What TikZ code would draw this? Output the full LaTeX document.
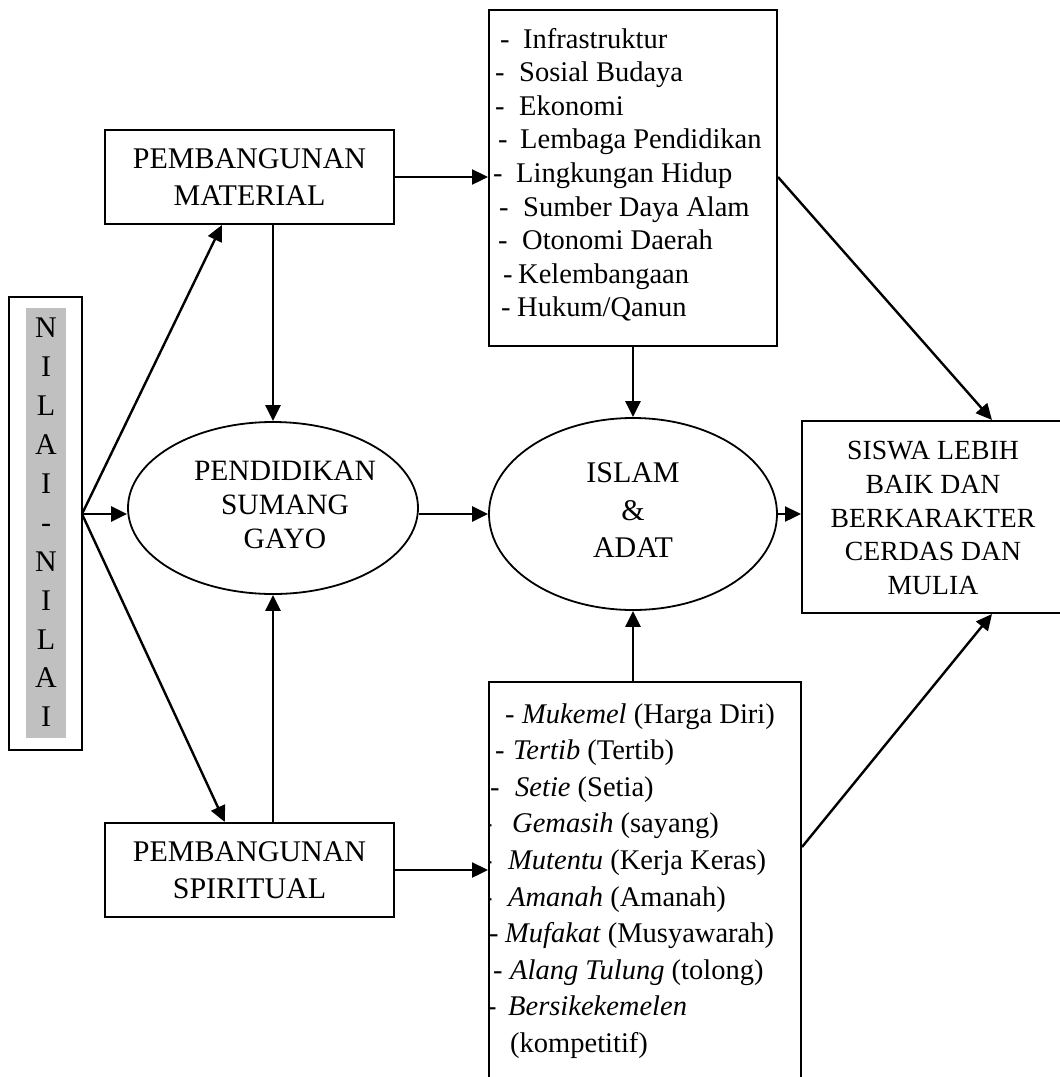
\documentclass[tikz,border=0pt]{standalone}
\usepackage{fontspec}
\setmainfont{Liberation Serif}
\usetikzlibrary{arrows.meta,shapes.geometric,calc}
\definecolor{shade}{RGB}{192,192,192}
\newcommand{\lline}[5]{\node[lst] (#1d) at (#2,#4) {-}; \node[lst] (#1) at (#3,#4) {#5};}
\begin{document}
\begin{tikzpicture}[x=1pt,y=-1pt,
  box/.style={draw,line width=2pt,inner sep=0pt},
  oval/.style={draw,ellipse,line width=1.8pt,inner sep=0pt},
  arr/.style={line width=2.4pt,-{Triangle[length=16pt,width=15pt]}},
  lst/.style={anchor=base west,inner sep=0pt,font=\fontsize{28.5}{34}\selectfont},
  big/.style={align=center,inner sep=0pt,font=\fontsize{30}{36.5}\selectfont},
]
\useasboundingbox (0,0) rectangle (1060,1077);

% NILAI-NILAI box
\node[box,fill=white,minimum width=73pt,minimum height=453pt] (nbox) at (45.5,523.5) {};
\node[fill=shade,minimum width=40pt,minimum height=430pt,inner sep=0pt] (nfill) at (46,523) {};
\node[align=center,inner sep=0pt,font=\fontsize{30}{38.9}\selectfont] (nilai) at (46,522.5)
  {N\\I\\L\\A\\I\\-\\N\\I\\L\\A\\I};

% boxes
\node[box,big,minimum width=289pt,minimum height=94pt] (mat) at (249.5,177) {PEMBANGUNAN\\MATERIAL};
\node[box,big,minimum width=289pt,minimum height=94pt] (spir) at (249.5,870) {PEMBANGUNAN\\SPIRITUAL};

% ellipses
\node[oval,minimum width=290pt,minimum height=172pt] (e1) at (273,508) {};
\node[big,font=\fontsize{29.5}{34}\selectfont] (e1t) at (285,505) {PENDIDIKAN\\SUMANG\\GAYO};
\node[oval,minimum width=288pt,minimum height=192pt] (e2) at (633,514) {};
\node[big,font=\fontsize{30}{37.5}\selectfont] (e2t) at (633,510.5) {ISLAM\\\&\\ADAT};

% list boxes
\node[box,minimum width=288pt,minimum height=336pt] (tl) at (633,178) {};
\node[box,minimum width=312pt,minimum height=408pt] (bl) at (645,886) {};

% final box
\node[box,minimum width=262pt,minimum height=192pt] (fin) at (933,517) {};
\node[align=center,inner sep=0pt,font=\fontsize{27.7}{33.7}\selectfont] (fint) at (933,518)
  {SISWA LEBIH\\BAIK DAN\\BERKARAKTER\\CERDAS DAN\\MULIA};

% top list
\lline{a1}{500}{523}{48}{Infrastruktur}
\lline{a2}{495}{519}{81.6}{Sosial Budaya}
\lline{a3}{495}{519}{115.2}{Ekonomi}
\lline{a4}{498}{520}{148.8}{Lembaga Pendidikan}
\lline{a5}{493}{516}{182.4}{Lingkungan Hidup}
\lline{a6}{499}{523}{216}{Sumber Daya Alam}
\lline{a7}{498}{522}{249.6}{Otonomi Daerah}
\lline{a8}{503}{518}{283.2}{Kelembangaan}
\lline{a9}{501}{517}{316.8}{Hukum/Qanun}

% bottom list
\begin{scope}
\clip (bl.north west) rectangle (bl.south east);
\lline{b1}{505}{522}{723}{\textit{Mukemel} (Harga Diri)}
\lline{b2}{495}{513}{759.6}{\textit{Tertib} (Tertib)}
\lline{b3}{490}{515}{796.2}{\textit{Setie} (Setia)}
\lline{b4}{483}{512}{832.8}{\textit{Gemasih} (sayang)}
\lline{b5}{483}{508}{869.4}{\textit{Mutentu} (Kerja Keras)}
\lline{b6}{483}{508}{906}{\textit{Amanah} (Amanah)}
\lline{b7}{489}{505}{942.6}{\textit{Mufakat} (Musyawarah)}
\lline{b8}{493}{510}{979.2}{\textit{Alang Tulung} (tolong)}
\lline{b9}{487}{508}{1015.8}{\textit{Bersikekemelen}}
\node[lst] (b10) at (510,1052.4) {(kompetitif)};
\end{scope}

% connectors
\coordinate (fan) at (82,514);
\draw[arr] (fan) -- ($(mat.south west)!0.405!(mat.south east)$);
\draw[arr] (fan) -- (fan -| e1.west);
\draw[arr] (fan) -- ($(spir.north west)!0.415!(spir.north east)$);
\draw[arr] (mat.south -| e1.north) -- (e1.north);
\draw[arr] (spir.north -| e1.south) -- (e1.south);
\draw[arr] (mat.east) -- (mat.east -| tl.west);
\draw[arr] (spir.east) -- (spir.east -| bl.west);
\draw[arr] (e1.east |- e2.west) -- (e2.west);
\draw[arr] (tl.south -| e2.north) -- (e2.north);
\draw[arr] (bl.north -| e2.south) -- (e2.south);
\draw[arr] (e2.east) -- (e2.east -| fin.west);
\draw[arr] ($(tl.north east)+(0,168)$) -- ($(fin.north west)+(191,0)$);
\draw[arr] ($(bl.north east)+(0,166)$) -- ($(fin.south west)+(191,0)$);
\end{tikzpicture}
\end{document}
